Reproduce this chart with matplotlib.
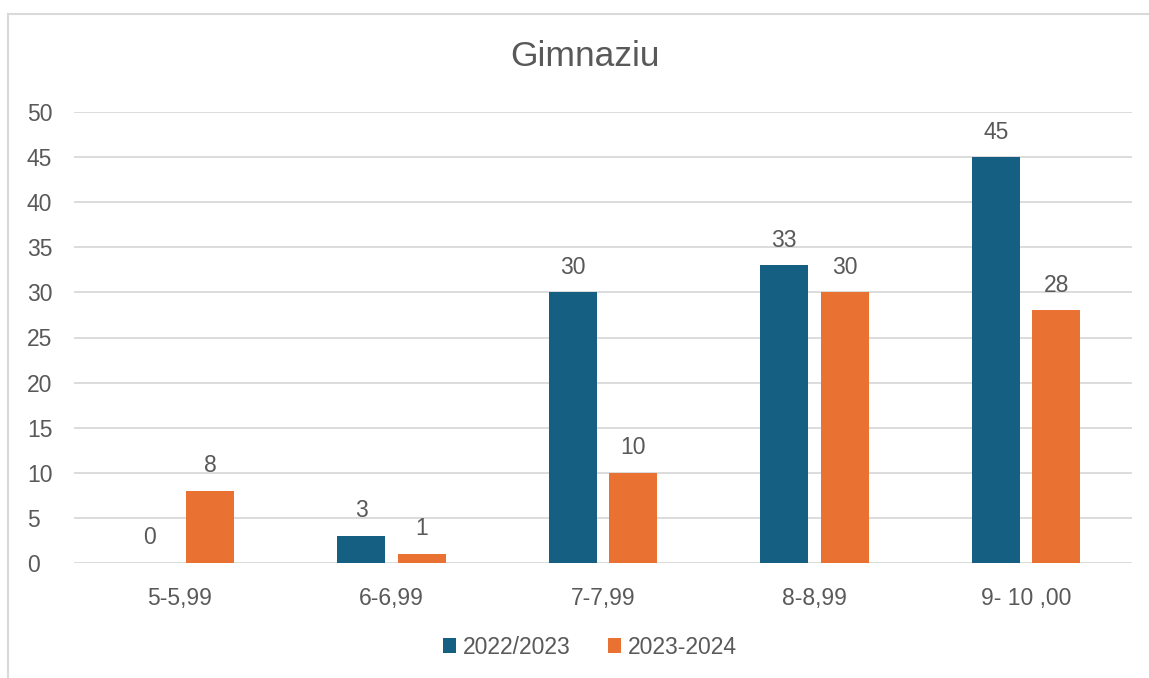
import numpy as np
import matplotlib.pyplot as plt
from matplotlib.lines import Line2D

categories = ['5-5,99', '6-6,99', '7-7,99', '8-8,99', '9- 10 ,00']
series_names = ['2022/2023', '2023-2024']
values_2022 = [0, 3, 30, 33, 45]
values_2023 = [8, 1, 10, 30, 28]

BLUE = '#156082'
ORANGE = '#E97132'
TEXT = '#595959'
GRID = '#D9D9D9'
FS = 16.5

plt.rcParams['font.family'] = ['Liberation Sans', 'DejaVu Sans']

fig = plt.figure(figsize=(11.49, 6.78), dpi=100)
ax = fig.add_axes([74/1149, 1 - 563/678, (1132 - 74)/1149, (563 - 112)/678])

x = np.arange(len(categories))
w = 0.227
off = 0.143
b1 = ax.bar(x - off, values_2022, w, color=BLUE, label=series_names[0])
b2 = ax.bar(x + off, values_2023, w, color=ORANGE, label=series_names[1])

for bars in (b1, b2):
    for r in bars:
        ax.annotate(f'{int(r.get_height())}',
                    (r.get_x() + r.get_width()/2, r.get_height()),
                    xytext=(0, 18), textcoords='offset points',
                    ha='center', va='center', fontsize=FS, color=TEXT)

ax.set_xlim(-0.5, len(categories) - 0.5)
ax.set_ylim(0, 50)
ax.set_yticks(range(0, 51, 5))
ax.set_xticks(x)
ax.set_xticklabels(categories)
ax.tick_params(axis='both', length=0, labelsize=FS, colors=TEXT)
ax.tick_params(axis='x', pad=17)
ax.tick_params(axis='y', pad=34)
for lbl in ax.get_yticklabels():
    lbl.set_horizontalalignment('left')
ax.yaxis.grid(True, color=GRID, lw=1.3)
ax.set_axisbelow(True)
for s in ax.spines.values():
    s.set_visible(False)

fig.text(585/1149, 1 - 57/678, 'Gimnaziu', ha='center', va='center',
         fontsize=25.5, color=TEXT)

ax.legend(loc='center', bbox_to_anchor=(590/1149, 1 - 647/678),
          bbox_transform=fig.transFigure, ncol=2, frameon=False,
          fontsize=FS, labelcolor=TEXT, handlelength=0.6, handleheight=0.6,
          handletextpad=0.3, columnspacing=1.6)

# chart frame
fig.add_artist(Line2D([8/1149, 8/1149], [0, 1 - 14/678], color=GRID, lw=1.5,
                      transform=fig.transFigure))
fig.add_artist(Line2D([8/1149, 1], [1 - 14/678, 1 - 14/678], color=GRID, lw=1.5,
                      transform=fig.transFigure))

fig.savefig('out.png', dpi=100)
